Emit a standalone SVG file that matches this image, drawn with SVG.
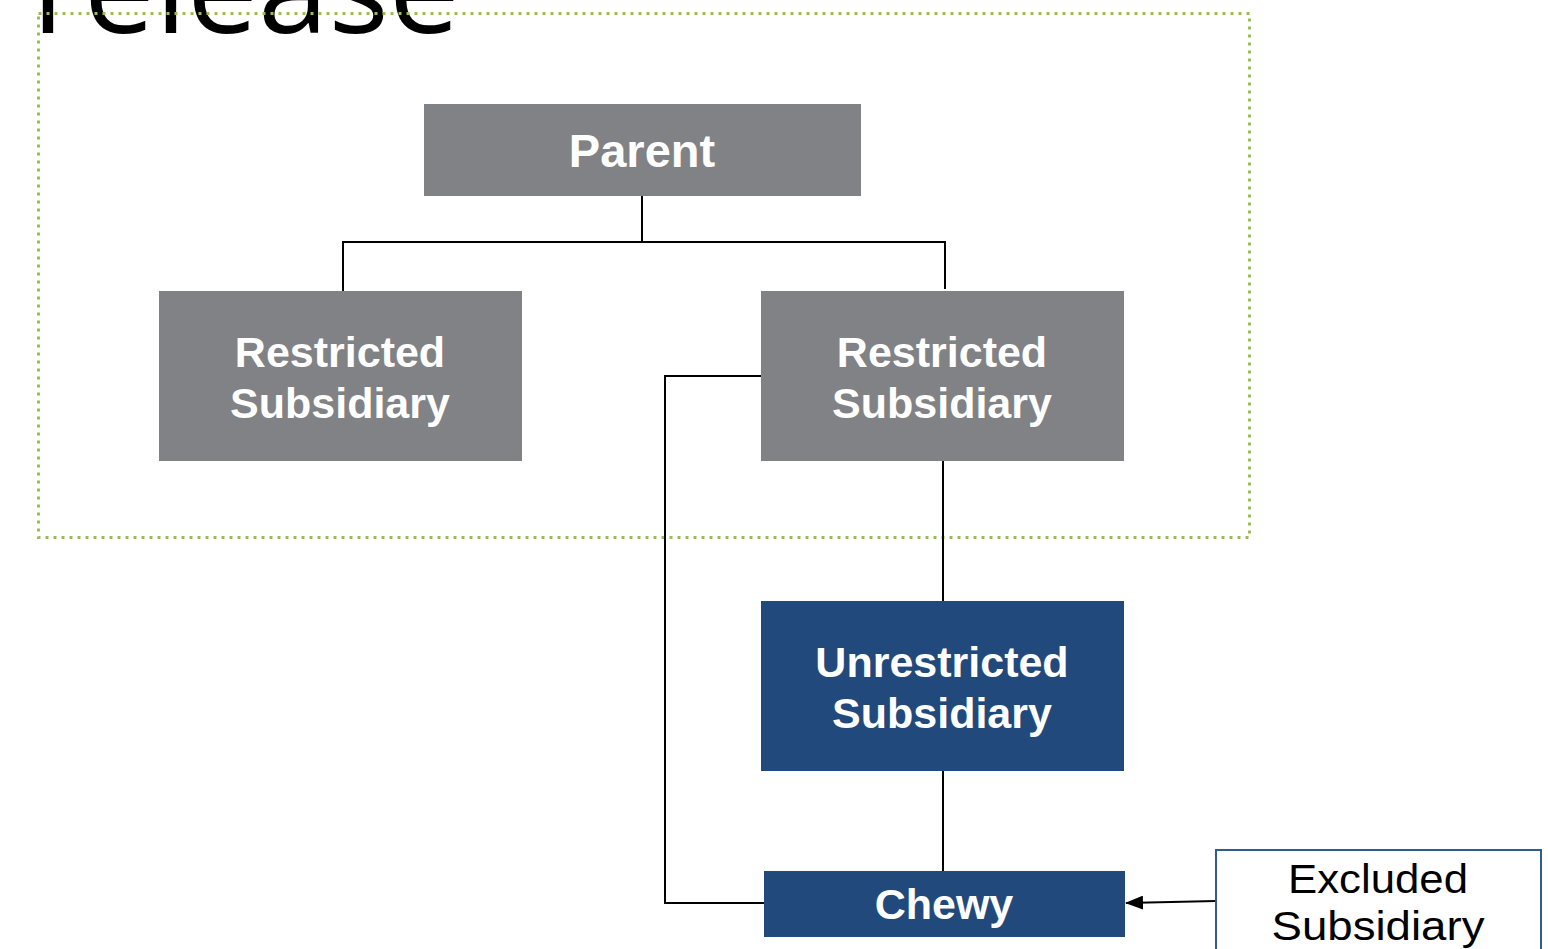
<svg xmlns="http://www.w3.org/2000/svg" width="1548" height="949" viewBox="0 0 1548 949">
<style>
.gray{fill:#818285}
.blue{fill:#21497b}
.lbl{font-family:"Liberation Sans",Arial,sans-serif;font-weight:bold;font-size:43px;fill:#fff;text-anchor:middle}
.ln{fill:none;stroke:#000;stroke-width:2}
</style>
<defs>
<marker id="ah" markerWidth="18" markerHeight="14" refX="17" refY="7" orient="auto" markerUnits="userSpaceOnUse">
<path d="M0,0 L18,7 L0,14 Z" fill="#000"/>
</marker>
</defs>
<rect width="1548" height="949" fill="#fff"/>
<text x="32" y="33" font-family="Open Sans, sans-serif" font-size="124" fill="#000" textLength="428" lengthAdjust="spacingAndGlyphs">release</text>
<rect id="release-boundary" x="38.5" y="13.5" width="1211" height="524" fill="none" stroke="#9bbb59" stroke-width="3" stroke-dasharray="3 5"/>
<g id="connectors">
<path class="ln" d="M642,196 V242 M343,293 V242 H945 V289"/>
<path class="ln" d="M761,376 H665 V903 H764"/>
<path class="ln" d="M943,461 V601"/>
<path class="ln" d="M943,771 V871"/>
<path class="ln" d="M1216,901 L1126,903" marker-end="url(#ah)"/>
</g>
<g id="parent">
<rect class="gray" x="424" y="104" width="437" height="92"/>
<text class="lbl" x="642" y="167" style="font-size:47px">Parent</text>
</g>
<g id="restricted-left">
<rect class="gray" x="159" y="291" width="363" height="170"/>
<text class="lbl" x="340" y="367">Restricted</text>
<text class="lbl" x="340" y="418">Subsidiary</text>
</g>
<g id="restricted-right">
<rect class="gray" x="761" y="291" width="363" height="170"/>
<text class="lbl" x="942" y="367">Restricted</text>
<text class="lbl" x="942" y="418">Subsidiary</text>
</g>
<g id="unrestricted">
<rect class="blue" x="761" y="601" width="363" height="170"/>
<text class="lbl" x="942" y="677">Unrestricted</text>
<text class="lbl" x="942" y="728">Subsidiary</text>
</g>
<g id="chewy">
<rect class="blue" x="764" y="871" width="361" height="66"/>
<text class="lbl" x="944" y="919">Chewy</text>
</g>
<g id="excluded">
<rect x="1216" y="850" width="325" height="110" fill="#fff" stroke="#2f5b8f" stroke-width="2"/>
<text x="1378" y="893" font-family="Liberation Sans, Arial, sans-serif" font-size="40" fill="#000" text-anchor="middle" textLength="180" lengthAdjust="spacingAndGlyphs">Excluded</text>
<text x="1378" y="940" font-family="Liberation Sans, Arial, sans-serif" font-size="40" fill="#000" text-anchor="middle" textLength="213" lengthAdjust="spacingAndGlyphs">Subsidiary</text>
</g>
</svg>
